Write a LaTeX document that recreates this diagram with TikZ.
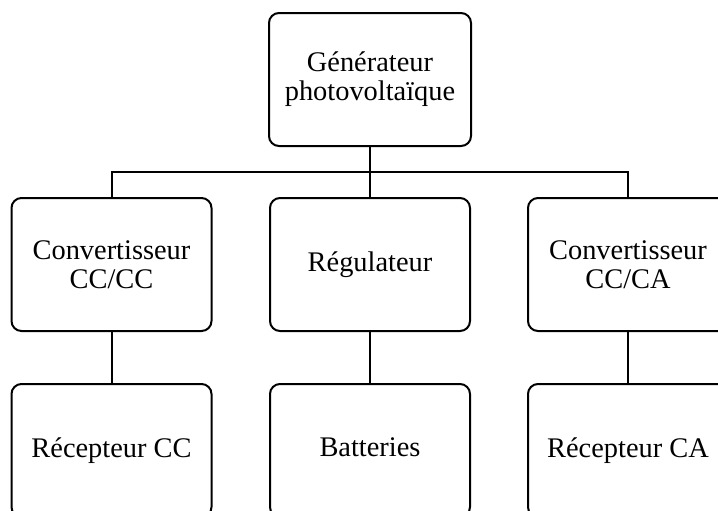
\documentclass[tikz,border=0pt]{standalone}
\usepackage{fontspec}
\setmainfont{Liberation Serif}
\usepackage{tikz}
\usetikzlibrary{positioning}

\begin{document}
\begin{tikzpicture}
    [x=0.5pt,y=-0.5pt,
     box/.style={draw,line width=1pt,rounded corners=5pt,minimum width=100pt,minimum height=66.5pt,
                 inner sep=0pt,outer sep=0pt,align=center,font=\fontsize{14.2}{14.6}\selectfont}]
    \useasboundingbox (0,0) rectangle (718,510);
    \clip (0,0) rectangle (718,510);
    \node[box,minimum width=101pt] (gen) at (370,79.5) {Générateur\\photovoltaïque};
    \node[box] (convcc) at (111.5,264.5) {Convertisseur\\CC/CC};
    \node[box] (reg) at (370,264.5) {Régulateur};
    \node[box] (convca) at (628,264.5) {Convertisseur\\CC/CA};
    \node[box] (reccc) at (111.5,450.5) {Récepteur CC};
    \node[box] (bat) at (370,450.5) {\vphantom{p}Batteries};
    \node[box] (recca) at (628,450.5) {Récepteur CA};
    \coordinate (bus) at (370,172);
    \draw[line width=1pt] (gen.south) -- (reg.north);
    \draw[line width=1pt] (convcc.north) |- (bus) -| (convca.north);
    \draw[line width=1pt] (convcc.south) -- (reccc.north);
    \draw[line width=1pt] (reg.south) -- (bat.north);
    \draw[line width=1pt] (convca.south) -- (recca.north);
\end{tikzpicture}
\end{document}
